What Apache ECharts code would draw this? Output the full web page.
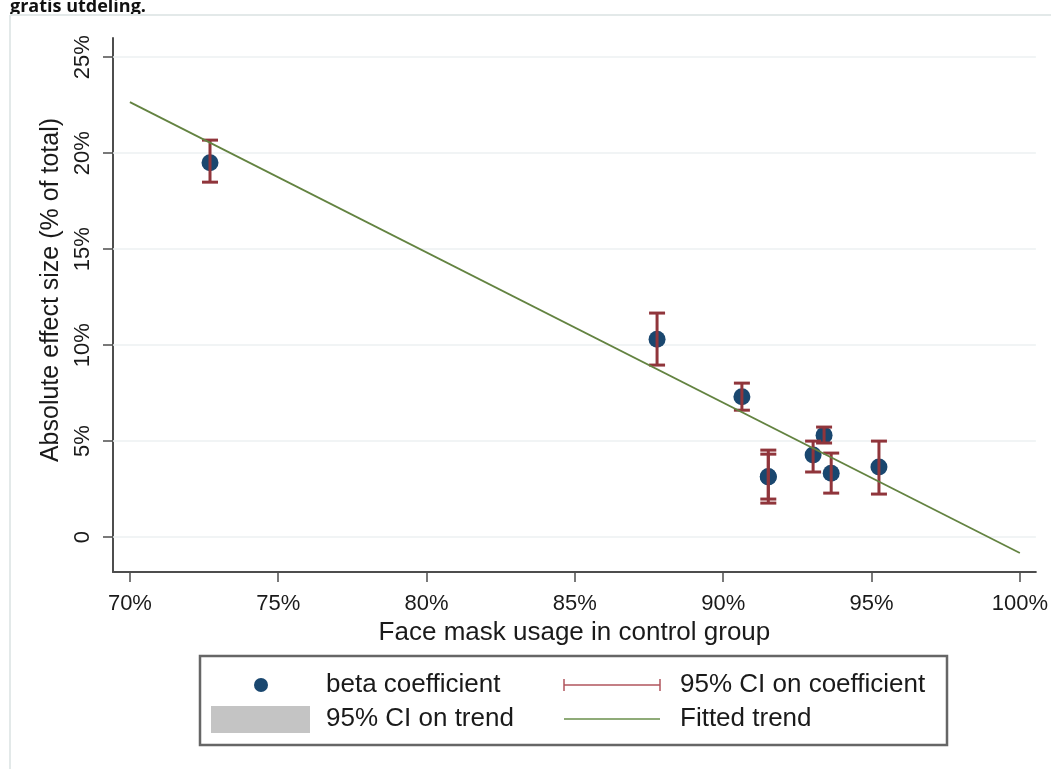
<!DOCTYPE html>
<html>
<head>
<meta charset="utf-8">
<title>Face mask usage vs. effect size</title>
<script src="https://cdn.jsdelivr.net/npm/echarts@6/dist/echarts.min.js"></script>
<style>
  html, body { margin: 0; padding: 0; background: #ffffff; }
  #chart { width: 1051px; height: 769px; }
</style>
</head>
<body>
<div id="chart"></div>
<script>
// Face mask usage in the control group (%) for each estimate
const maskUsage = [72.7, 87.77, 90.63, 91.52, 91.52, 93.03, 93.4, 93.64, 95.25];
// Absolute effect size (% of total), beta coefficient
const effectSize = [19.5, 10.3, 7.31, 3.13, 3.15, 4.27, 5.31, 3.33, 3.65];
// 95% confidence interval on each coefficient
const ciLow = [18.49, 8.96, 6.61, 1.77, 1.98, 3.39, 4.9, 2.29, 2.24];
const ciHigh = [20.68, 11.67, 8.02, 4.53, 4.32, 5.0, 5.73, 4.375, 5.0];
// Fitted linear trend, evaluated at the ends of the x range
const trendX = [70, 100];
const trendY = [22.66, -0.83];
// Tick values
const xTicks = [70, 75, 80, 85, 90, 95, 100];
const yTicks = [0, 5, 10, 15, 20, 25];

const NAVY = '#1a476f';
const MAROON = '#90353b';
const GREEN = '#638341';
const AXIS = '#4d4d4d';
const FONT = 'Liberation Sans, Arial, sans-serif';

const chart = echarts.init(document.getElementById('chart'), null, { renderer: 'canvas' });

const points = maskUsage.map((x, i) => [x, effectSize[i]]);
const ciData = maskUsage.map((x, i) => [x, ciLow[i], ciHigh[i]]);
const trendData = trendX.map((x, i) => [x, trendY[i]]);

// Capped vertical spike for each confidence interval
function renderCap(params, api) {
  const x = api.value(0);
  const lo = api.coord([x, api.value(1)]);
  const hi = api.coord([x, api.value(2)]);
  const hw = 8;
  const style = { stroke: MAROON, lineWidth: 3 };
  return {
    type: 'group',
    children: [
      { type: 'line', shape: { x1: lo[0], y1: lo[1], x2: hi[0], y2: hi[1] }, style },
      { type: 'line', shape: { x1: lo[0] - hw, y1: lo[1], x2: lo[0] + hw, y2: lo[1] }, style },
      { type: 'line', shape: { x1: hi[0] - hw, y1: hi[1], x2: hi[0] + hw, y2: hi[1] }, style }
    ]
  };
}

const legendY1 = 685, legendY2 = 719;
const legendText = { fill: '#1a1a1a', font: '26px ' + FONT, verticalAlign: 'middle' };

chart.setOption({
  animation: false,
  backgroundColor: '#ffffff',
  grid: { left: 113, right: 14, top: 38, bottom: 197, containLabel: false },
  xAxis: {
    type: 'value',
    min: 69.43,
    max: 100.54,
    name: 'Face mask usage in control group',
    nameLocation: 'middle',
    nameGap: 43,
    nameTextStyle: { color: '#1a1a1a', fontSize: 26, fontFamily: FONT },
    axisLine: { show: true, onZero: false, lineStyle: { color: AXIS, width: 2 } },
    axisTick: { show: true, customValues: xTicks, length: 10, lineStyle: { color: AXIS, width: 1.5 } },
    axisLabel: {
      customValues: xTicks,
      margin: 21,
      color: '#1a1a1a',
      fontSize: 22,
      fontFamily: FONT,
      formatter: v => v + '%'
    },
    splitLine: { show: false }
  },
  yAxis: {
    type: 'value',
    min: -1.82,
    max: 26,
    name: 'Absolute effect size (% of total)',
    nameLocation: 'middle',
    nameRotate: 90,
    nameGap: 46,
    nameTextStyle: { color: '#1a1a1a', fontSize: 25, fontFamily: FONT, padding: [0, 0, 0, 30] },
    axisLine: { show: true, onZero: false, lineStyle: { color: AXIS, width: 2 } },
    axisTick: { show: true, customValues: yTicks, length: 10, lineStyle: { color: AXIS, width: 1.5 } },
    axisLabel: {
      customValues: yTicks,
      rotate: 90,
      margin: 19,
      color: '#1a1a1a',
      fontSize: 22,
      fontFamily: FONT,
      formatter: v => (v === 0 ? '0' : v + '%')
    },
    splitLine: { show: false }
  },
  series: [
    {
      name: 'beta coefficient',
      type: 'scatter',
      z: 2,
      data: points,
      symbol: 'circle',
      symbolSize: 17,
      itemStyle: { color: NAVY, opacity: 1 },
      markLine: {
        silent: true,
        z: 1,
        symbol: ['none', 'none'],
        label: { show: false },
        lineStyle: { color: '#ecf1f2', width: 1.5, type: 'solid' },
        data: yTicks.map(v => ({ yAxis: v }))
      }
    },
    {
      name: '95% CI on coefficient',
      type: 'custom',
      z: 3,
      renderItem: renderCap,
      encode: { x: 0, y: [1, 2] },
      data: ciData
    },
    {
      name: 'Fitted trend',
      type: 'line',
      z: 4,
      data: trendData,
      symbol: 'none',
      lineStyle: { color: GREEN, width: 1.8 }
    }
  ],
  graphic: [
    // heading above the figure (cut off at the page top)
    { type: 'text', left: 10, top: -2, z: 10, style: { text: 'gratis utdeling.', fill: '#111', font: 'bold 18px Open Sans, sans-serif' } },
    // frame around the figure
    { type: 'line', z: 10, shape: { x1: 10, y1: 15, x2: 1051, y2: 15 }, style: { stroke: '#e3e9e9', lineWidth: 2 } },
    { type: 'line', z: 10, shape: { x1: 10, y1: 15, x2: 10, y2: 769 }, style: { stroke: '#e3e9e9', lineWidth: 2 } },
    // legend
    { type: 'rect', z: 10, shape: { x: 200, y: 656, width: 747, height: 89 }, style: { fill: '#ffffff', stroke: '#666666', lineWidth: 2.5 } },
    { type: 'circle', z: 11, shape: { cx: 261, cy: legendY1, r: 7 }, style: { fill: NAVY } },
    { type: 'text', z: 11, x: 326, y: legendY1, style: Object.assign({ text: 'beta coefficient' }, legendText) },
    { type: 'line', z: 11, shape: { x1: 564, y1: legendY1, x2: 660, y2: legendY1 }, style: { stroke: '#b0545c', lineWidth: 1.5 } },
    { type: 'line', z: 11, shape: { x1: 564, y1: legendY1 - 6, x2: 564, y2: legendY1 + 6 }, style: { stroke: '#b0545c', lineWidth: 1.5 } },
    { type: 'line', z: 11, shape: { x1: 660, y1: legendY1 - 6, x2: 660, y2: legendY1 + 6 }, style: { stroke: '#b0545c', lineWidth: 1.5 } },
    { type: 'text', z: 11, x: 680, y: legendY1, style: Object.assign({ text: '95% CI on coefficient' }, legendText) },
    { type: 'rect', z: 11, shape: { x: 211, y: 706, width: 99, height: 27 }, style: { fill: '#c4c4c4' } },
    { type: 'text', z: 11, x: 326, y: legendY2, style: Object.assign({ text: '95% CI on trend' }, legendText) },
    { type: 'line', z: 11, shape: { x1: 564, y1: legendY2, x2: 660, y2: legendY2 }, style: { stroke: '#8fab78', lineWidth: 2 } },
    { type: 'text', z: 11, x: 680, y: legendY2, style: Object.assign({ text: 'Fitted trend' }, legendText) }
  ]
});
</script>
</body>
</html>
